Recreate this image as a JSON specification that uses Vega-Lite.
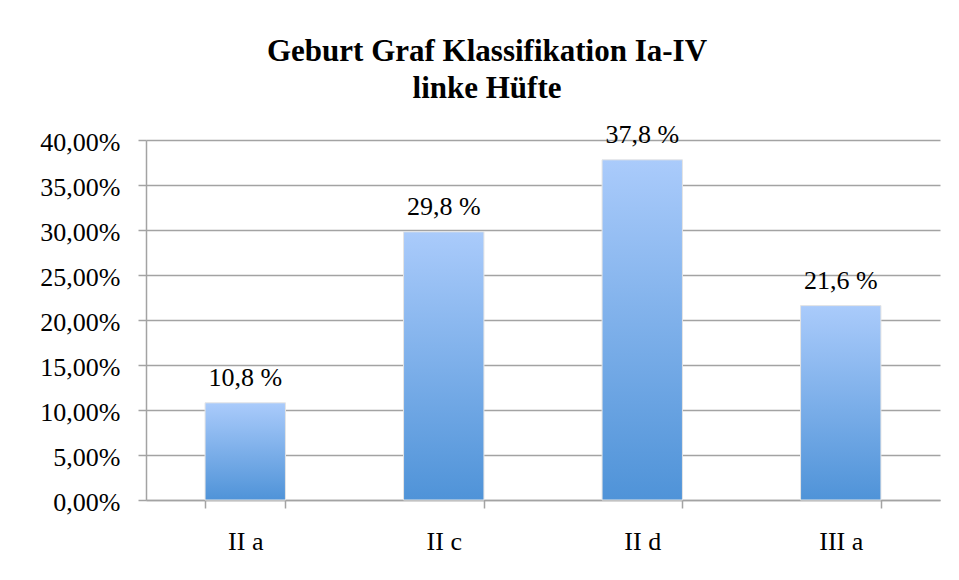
{
  "$schema": "https://vega.github.io/schema/vega-lite/v6.json",
  "width": 794,
  "height": 360,
  "autosize": "none",
  "padding": {"left": 146, "top": 140, "right": 19, "bottom": 80},
  "background": "white",
  "config": {
    "locale": {"number": {"decimal": ",", "thousands": ".", "grouping": [3], "currency": ["", " €"]}},
    "view": {"stroke": null},
    "font": "Liberation Serif, Times New Roman, serif",
    "title": {"font": "Liberation Serif, Times New Roman, serif"},
    "text": {"font": "Liberation Serif, Times New Roman, serif"}
  },
  "title": {
    "text": ["Geburt Graf Klassifikation Ia-IV", "linke Hüfte"],
    "font": "Liberation Serif, Times New Roman, serif",
    "fontSize": 31,
    "fontWeight": "bold",
    "color": "black",
    "lineHeight": 36.5,
    "anchor": "middle",
    "frame": "group",
    "dx": -56,
    "offset": 17
  },
  "data": {
    "values": [
      {"klasse": "II a", "anteil": 0.108, "label": "10,8 %"},
      {"klasse": "II c", "anteil": 0.298, "label": "29,8 %"},
      {"klasse": "II d", "anteil": 0.378, "label": "37,8 %"},
      {"klasse": "III a", "anteil": 0.216, "label": "21,6 %"}
    ]
  },
  "encoding": {
    "x": {
      "field": "klasse",
      "type": "nominal",
      "sort": null,
      "scale": {"paddingInner": 0.595, "paddingOuter": 0.2975},
      "axis": {
        "title": null,
        "labelAngle": 0,
        "tickBand": "extent",
        "tickSize": 8,
        "tickColor": "#a3a3a3",
        "tickWidth": 1.5,
        "domainColor": "#a3a3a3",
        "domainWidth": 1.5,
        "labelFont": "Liberation Serif, Times New Roman, serif",
        "labelFontSize": 26,
        "labelColor": "black",
        "labelPadding": 20,
        "grid": false
      }
    },
    "y": {
      "field": "anteil",
      "type": "quantitative",
      "scale": {"domain": [0, 0.4], "nice": false},
      "axis": {
        "title": null,
        "values": [0, 0.05, 0.1, 0.15, 0.2, 0.25, 0.3, 0.35, 0.4],
        "format": ".2%",
        "tickSize": 8,
        "tickColor": "#a3a3a3",
        "tickWidth": 1.5,
        "domainColor": "#a3a3a3",
        "domainWidth": 1.5,
        "gridColor": "#a3a3a3",
        "gridWidth": 1.5,
        "labelFont": "Liberation Serif, Times New Roman, serif",
        "labelFontSize": 26,
        "labelColor": "black",
        "labelPadding": 18,
        "labelOffset": 2
      }
    }
  },
  "layer": [
    {
      "mark": {
        "type": "bar",
        "stroke": "#e4e4e4",
        "strokeWidth": 1,
        "color": {
          "gradient": "linear",
          "x1": 0, "y1": 0, "x2": 0, "y2": 1,
          "stops": [
            {"offset": 0, "color": "#AACBFB"},
            {"offset": 1, "color": "#4F93D8"}
          ]
        }
      }
    },
    {
      "mark": {
        "type": "text",
        "baseline": "alphabetic",
        "dy": -17,
        "font": "Liberation Serif, Times New Roman, serif",
        "fontSize": 26,
        "color": "black"
      },
      "encoding": {"text": {"field": "label"}}
    }
  ]
}
